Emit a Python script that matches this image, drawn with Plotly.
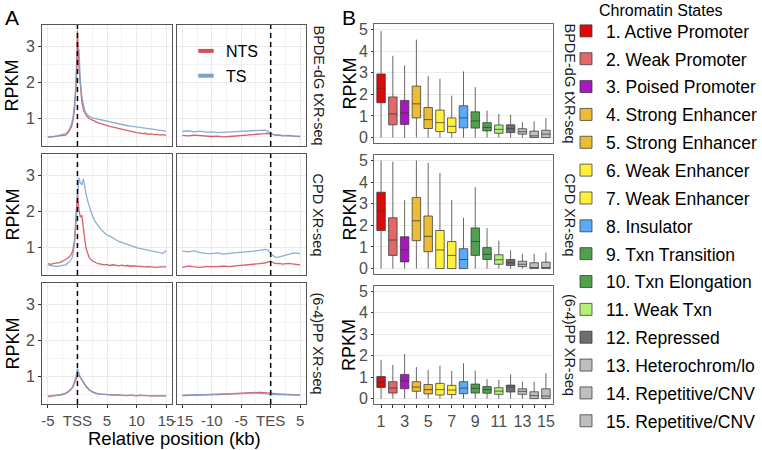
import plotly.graph_objects as go

W, H = 762, 450
def px(x): return x / W
def py(y): return 1 - y / H
def sfx(i): return "" if i == 1 else str(i)

FONT = "Liberation Sans, Arial, Helvetica, sans-serif"

# ---------------- Panel A data ----------------
XL = [-5, -4.5, -4, -3.5, -3, -2.5, -2, -1.5, -1, -0.75, -0.5, -0.25, 0, 0.25, 0.5, 0.75, 1, 1.25, 1.5,
      2, 2.5, 3, 3.5, 4, 4.5, 5, 5.5, 6, 6.5, 7, 7.5, 8, 8.5, 9, 9.5, 10, 10.5, 11, 11.5, 12, 12.5, 13, 13.5, 14, 14.5, 15]
XR = [-15, -14, -13, -12, -11, -10, -9, -8, -7, -6, -5, -4, -3, -2, -1, -0.5, 0, 0.5, 1, 1.5, 2, 3, 4, 5]

bpde_nts_L = [0.48, 0.49, 0.48, 0.50, 0.51, 0.52, 0.54, 0.62, 0.78, 0.95, 1.25, 1.90, 3.45, 2.45, 1.80, 1.45, 1.25, 1.15, 1.08,
              1.00, 0.95, 0.92, 0.88, 0.85, 0.83, 0.80, 0.78, 0.76, 0.74, 0.71, 0.70, 0.67, 0.66, 0.64, 0.63, 0.61, 0.60, 0.58, 0.59, 0.56, 0.57, 0.55, 0.56, 0.54, 0.55, 0.53]
bpde_ts_L = [0.48, 0.50, 0.49, 0.51, 0.52, 0.55, 0.58, 0.66, 0.85, 1.05, 1.40, 2.00, 2.70, 2.95, 2.00, 1.60, 1.35, 1.22, 1.14,
             1.06, 1.02, 1.00, 0.98, 0.96, 0.95, 0.92, 0.91, 0.89, 0.87, 0.85, 0.84, 0.82, 0.80, 0.79, 0.78, 0.77, 0.75, 0.74, 0.73, 0.72, 0.70, 0.70, 0.69, 0.68, 0.66, 0.65]
cpd_nts_L = [0.55, 0.53, 0.56, 0.57, 0.58, 0.62, 0.66, 0.72, 0.82, 0.95, 1.20, 1.80, 2.50, 2.05, 1.85, 1.90, 1.50, 1.20, 0.95,
             0.72, 0.63, 0.58, 0.55, 0.54, 0.52, 0.53, 0.50, 0.52, 0.50, 0.49, 0.51, 0.49, 0.50, 0.48, 0.49, 0.48, 0.47, 0.48, 0.46, 0.47, 0.46, 0.47, 0.45, 0.46, 0.45, 0.46]
cpd_ts_L = [0.52, 0.50, 0.48, 0.47, 0.49, 0.50, 0.52, 0.58, 0.68, 0.80, 1.10, 1.70, 2.30, 2.95, 2.80, 2.75, 2.92, 2.70, 2.45,
            2.15, 1.90, 1.72, 1.60, 1.50, 1.42, 1.35, 1.32, 1.26, 1.22, 1.17, 1.14, 1.10, 1.07, 1.05, 1.03, 1.00, 0.98, 0.96, 0.95, 0.93, 0.91, 0.90, 0.88, 0.86, 0.84, 0.92]
pp_nts_L = [0.44, 0.45, 0.46, 0.47, 0.48, 0.50, 0.53, 0.58, 0.66, 0.72, 0.82, 0.92, 1.02, 1.03, 0.98, 0.92, 0.85, 0.78, 0.72,
            0.63, 0.57, 0.54, 0.52, 0.51, 0.50, 0.50, 0.49, 0.49, 0.48, 0.49, 0.48, 0.48, 0.47, 0.48, 0.47, 0.47, 0.48, 0.47, 0.46, 0.47, 0.46, 0.47, 0.46, 0.46, 0.47, 0.46]
pp_ts_L = [0.46, 0.46, 0.47, 0.48, 0.49, 0.51, 0.54, 0.59, 0.67, 0.74, 0.85, 1.00, 1.22, 1.08, 0.97, 0.90, 0.83, 0.76, 0.70,
           0.62, 0.57, 0.54, 0.52, 0.51, 0.50, 0.49, 0.50, 0.48, 0.49, 0.48, 0.48, 0.47, 0.48, 0.47, 0.47, 0.46, 0.47, 0.47, 0.46, 0.47, 0.46, 0.46, 0.47, 0.46, 0.46, 0.47]

bpde_nts_R = [0.53, 0.52, 0.54, 0.52, 0.51, 0.50, 0.51, 0.49, 0.50, 0.51, 0.52, 0.53, 0.55, 0.56, 0.58, 0.59, 0.58, 0.55, 0.53, 0.54, 0.52, 0.53, 0.51, 0.50]
bpde_ts_R = [0.64, 0.66, 0.63, 0.65, 0.62, 0.63, 0.61, 0.62, 0.64, 0.63, 0.65, 0.66, 0.67, 0.68, 0.68, 0.66, 0.57, 0.55, 0.54, 0.53, 0.53, 0.52, 0.51, 0.50]
cpd_nts_R = [0.45, 0.48, 0.46, 0.45, 0.47, 0.46, 0.47, 0.48, 0.47, 0.49, 0.50, 0.52, 0.53, 0.55, 0.57, 0.60, 0.62, 0.57, 0.55, 0.56, 0.54, 0.56, 0.53, 0.52]
cpd_ts_R = [0.90, 0.88, 0.91, 0.86, 0.84, 0.83, 0.85, 0.82, 0.84, 0.85, 0.86, 0.88, 0.90, 0.92, 0.95, 0.93, 0.85, 0.76, 0.72, 0.74, 0.76, 0.80, 0.85, 0.83]
pp_nts_R = [0.47, 0.48, 0.48, 0.49, 0.49, 0.50, 0.50, 0.51, 0.52, 0.53, 0.54, 0.55, 0.56, 0.56, 0.55, 0.54, 0.52, 0.53, 0.52, 0.51, 0.51, 0.50, 0.49, 0.48]
pp_ts_R = [0.48, 0.48, 0.49, 0.49, 0.50, 0.50, 0.51, 0.51, 0.52, 0.52, 0.53, 0.53, 0.54, 0.54, 0.53, 0.52, 0.47, 0.50, 0.50, 0.50, 0.49, 0.49, 0.48, 0.48]

# ---------------- Panel B data ----------------
states = ["1. Active Promoter", "2. Weak Promoter", "3. Poised Promoter", "4. Strong Enhancer",
          "5. Strong Enhancer", "6. Weak Enhancer", "7. Weak Enhancer", "8. Insulator",
          "9. Txn Transition", "10. Txn Elongation", "11. Weak Txn", "12. Repressed",
          "13. Heterochrom/lo", "14. Repetitive/CNV", "15. Repetitive/CNV"]
state_colors = ["#DD0A0A", "#E06868", "#A818BF", "#EDBC35", "#EDBC35", "#FFF03C", "#FFF03C", "#5AAAF8",
                "#50A050", "#50A050", "#B4F078", "#6E6E6E", "#BEBEBE", "#BEBEBE", "#BEBEBE"]

bpde_q1 = [1.61, 0.59, 0.61, 0.91, 0.42, 0.28, 0.23, 0.45, 0.44, 0.31, 0.20, 0.23, 0.16, 0.00, 0.00]
bpde_med = [2.28, 1.09, 1.14, 1.56, 0.83, 0.69, 0.52, 0.91, 0.77, 0.47, 0.38, 0.41, 0.27, 0.08, 0.16]
bpde_q3 = [2.94, 1.88, 1.72, 2.38, 1.39, 1.27, 0.91, 1.47, 1.19, 0.69, 0.58, 0.59, 0.41, 0.30, 0.34]
bpde_lo = [0] * 15
bpde_hi = [4.92, 3.78, 3.34, 4.53, 2.84, 2.72, 1.94, 3.06, 2.33, 1.25, 1.09, 1.06, 0.72, 0.75, 0.90]

cpd_q1 = [1.76, 0.61, 0.31, 1.29, 0.78, 0.00, 0.00, 0.00, 0.61, 0.42, 0.20, 0.14, 0.09, 0.00, 0.00]
cpd_med = [2.66, 1.32, 0.86, 2.21, 1.49, 0.86, 0.61, 0.42, 1.25, 0.66, 0.41, 0.27, 0.20, 0.05, 0.05]
cpd_q3 = [3.53, 2.35, 1.47, 3.29, 2.43, 1.76, 1.25, 0.92, 1.88, 0.97, 0.64, 0.42, 0.34, 0.27, 0.30]
cpd_lo = [0] * 15
cpd_hi = [5.00, 4.94, 3.17, 5.00, 4.89, 4.42, 3.17, 2.35, 3.76, 1.87, 1.29, 0.85, 0.69, 0.69, 0.74]

pp_q1 = [0.52, 0.26, 0.46, 0.34, 0.22, 0.17, 0.19, 0.23, 0.26, 0.25, 0.20, 0.31, 0.20, 0.00, 0.00]
pp_med = [0.76, 0.49, 0.83, 0.54, 0.42, 0.42, 0.40, 0.49, 0.48, 0.42, 0.35, 0.54, 0.34, 0.14, 0.12]
pp_q3 = [1.03, 0.79, 1.13, 0.79, 0.66, 0.71, 0.62, 0.79, 0.68, 0.56, 0.51, 0.63, 0.46, 0.32, 0.46]
pp_lo = [0] * 15
pp_hi = [1.81, 1.57, 2.08, 1.47, 1.34, 1.53, 1.30, 1.65, 1.30, 0.91, 0.88, 1.14, 0.79, 0.79, 1.19]

strip_labels = ["BPDE-dG tXR-seq", "CPD XR-seq", "(6-4)PP XR-seq"]
NTS_COLOR = "#D2505A"
TS_COLOR = "#7C9FD2"

# ---------------- Geometry ----------------
A_cols = [(42, 172), (176.5, 306)]
A_rows = [(25, 146), (154, 275), (283, 404)]
B_col = (374, 553)
B_rows = [(24, 143), (155, 274), (286, 404)]

fig = go.Figure()

A_data = [
    (bpde_nts_L, bpde_ts_L, bpde_nts_R, bpde_ts_R),
    (cpd_nts_L, cpd_ts_L, cpd_nts_R, cpd_ts_R),
    (pp_nts_L, pp_ts_L, pp_nts_R, pp_ts_R),
]

layout = {}
shapes = []
for r in range(3):
    nL, tL, nR, tR = A_data[r]
    for c in range(2):
        i = r * 2 + c + 1
        s = sfx(i)
        xs = XL if c == 0 else XR
        nts = nL if c == 0 else nR
        ts = tL if c == 0 else tR
        fig.add_trace(go.Scatter(x=xs, y=nts, mode="lines", line=dict(color=NTS_COLOR, width=1.3),
                                 opacity=0.9, xaxis="x" + s, yaxis="y" + s, showlegend=False, hoverinfo="skip"))
        fig.add_trace(go.Scatter(x=xs, y=ts, mode="lines", line=dict(color=TS_COLOR, width=1.3),
                                 opacity=0.85, xaxis="x" + s, yaxis="y" + s, showlegend=False, hoverinfo="skip"))
        x0, x1 = A_cols[c]
        y0, y1 = A_rows[r]
        if c == 0:
            tv, tt, rng, mv = [-5, 0, 5, 10, 15], ["-5", "TSS", "5", "10", "15"], [-6, 16], [-2.5, 2.5, 7.5, 12.5]
        else:
            tv, tt, rng, mv = [-15, -10, -5, 0, 5], ["-15", "-10", "-5", "TES", "5"], [-16, 6], [-12.5, -7.5, -2.5, 2.5]
        bottom = (r == 2)
        layout["xaxis" + s] = dict(domain=[px(x0), px(x1)], anchor="y" + s, range=rng, tickvals=tv, ticktext=tt,
                                   showticklabels=bottom, ticks="outside" if bottom else "", ticklen=3,
                                   tickcolor="#333", showgrid=True, gridcolor="#EBEBEB", gridwidth=1,
                                   minor=dict(tickvals=mv, showgrid=True, gridcolor="#F3F3F3", gridwidth=0.6, ticks=""),
                                   zeroline=False, showline=True, mirror=True, linecolor="#555", linewidth=1,
                                   tickfont=dict(size=15, color="#4D4D4D", family=FONT))
        left = (c == 0)
        layout["yaxis" + s] = dict(domain=[py(y1), py(y0)], anchor="x" + s, range=[0.235, 3.61], tickvals=[1, 2, 3],
                                   showticklabels=left, ticks="outside" if left else "", ticklen=3, tickcolor="#333",
                                   showgrid=True, gridcolor="#EBEBEB", gridwidth=1,
                                   minor=dict(tickvals=[0.5, 1.5, 2.5, 3.5], showgrid=True, gridcolor="#F3F3F3", gridwidth=0.6, ticks=""),
                                   zeroline=False, showline=True, mirror=True, linecolor="#555", linewidth=1,
                                   tickfont=dict(size=16, color="#4D4D4D", family=FONT))
        shapes.append(dict(type="line", xref="x" + s, yref="y" + s + " domain", x0=0, x1=0, y0=0, y1=1,
                           line=dict(color="black", width=1.5, dash="5px,4px")))

# legend keys for strands
fig.add_trace(go.Scatter(x=[None], y=[None], mode="markers", name="NTS", legend="legend", legendgroup="nts",
                         marker=dict(symbol="line-ew", size=11, line=dict(color=NTS_COLOR, width=4)),
                         xaxis="x2", yaxis="y2"))
fig.add_trace(go.Scatter(x=[None], y=[None], mode="markers", name="TS", legend="legend", legendgroup="ts",
                         marker=dict(symbol="line-ew", size=11, line=dict(color=TS_COLOR, width=4)),
                         xaxis="x2", yaxis="y2"))

B_data = [
    (bpde_q1, bpde_med, bpde_q3, bpde_lo, bpde_hi),
    (cpd_q1, cpd_med, cpd_q3, cpd_lo, cpd_hi),
    (pp_q1, pp_med, pp_q3, pp_lo, pp_hi),
]
for r in range(3):
    i = 7 + r
    s = sfx(i)
    q1, med, q3, lo, hi = B_data[r]
    for k in range(15):
        fig.add_trace(go.Box(x=[k + 1], q1=[q1[k]], median=[med[k]], q3=[q3[k]], lowerfence=[lo[k]], upperfence=[hi[k]],
                             name=states[k], legend="legend2", legendgroup=f"s{k}", showlegend=(r == 0),
                             fillcolor=state_colors[k], line=dict(color="rgba(55,55,55,0.75)", width=1),
                             width=0.72, whiskerwidth=0, boxpoints=False, xaxis="x" + s, yaxis="y" + s, hoverinfo="skip"))
    y0, y1 = B_rows[r]
    bottom = (r == 2)
    layout["xaxis" + s] = dict(domain=[px(B_col[0]), px(B_col[1])], anchor="y" + s, range=[0.4, 15.6],
                               tickvals=list(range(1, 16)),
                               ticktext=[str(v) if v % 2 == 1 else "" for v in range(1, 16)],
                               showticklabels=bottom, ticks="outside" if bottom else "", ticklen=3, tickcolor="#333",
                               showgrid=False, zeroline=False, showline=True, mirror=True, linecolor="#666", linewidth=1,
                               tickfont=dict(size=16, color="#4D4D4D", family=FONT))
    layout["yaxis" + s] = dict(domain=[py(y1), py(y0)], anchor="x" + s, range=[-0.25, 5.25], tickvals=[0, 1, 2, 3, 4, 5],
                               ticks="outside", ticklen=2, tickcolor="#333", showgrid=True, gridcolor="#EBEBEB", gridwidth=1,
                               zeroline=False, showline=True, mirror=True, linecolor="#666", linewidth=1,
                               tickfont=dict(size=16, color="#4D4D4D", family=FONT))

def note(text, x, y, size, angle=0, color="black", xa="center", ya="middle"):
    return dict(text=text, x=px(x), y=py(y), xref="paper", yref="paper", xanchor=xa, yanchor=ya,
                textangle=angle, showarrow=False, font=dict(size=size, color=color, family=FONT))

ann = [note("A", 3, 4, 21, xa="left", ya="top"), note("B", 340, 4, 21, xa="left", ya="top")]
for r in range(3):
    yc = (A_rows[r][0] + A_rows[r][1]) / 2
    ann.append(note("RPKM", 12, yc, 18, angle=-90))
    ann.append(note(strip_labels[r], 318, yc, 14.5, angle=90, color="#1A1A1A"))
    ybc = (B_rows[r][0] + B_rows[r][1]) / 2
    ann.append(note("RPKM", 349, ybc, 18, angle=-90))
    ann.append(note(strip_labels[r], 570, ybc, 14.5, angle=90, color="#1A1A1A"))
ann.append(note("Relative position (kb)", 174, 438, 18.5))
ann.append(note("Chromatin States", 597, 10, 16, xa="left"))

fig.update_layout(
    width=W, height=H, margin=dict(l=0, r=0, t=0, b=0, autoexpand=False),
    paper_bgcolor="white", plot_bgcolor="white",
    font=dict(family=FONT),
    shapes=shapes, annotations=ann, boxmode="overlay",
    legend=dict(x=px(186), y=py(34), xref="container", yref="container", xanchor="left", yanchor="top",
                bgcolor="rgba(0,0,0,0)", maxheight=1,
                font=dict(size=16, color="black", family=FONT), traceorder="grouped", tracegroupgap=1),
    legend2=dict(x=px(566), y=py(13), xref="container", yref="container", xanchor="left", yanchor="top",
                 bgcolor="rgba(0,0,0,0)", maxheight=1,
                 font=dict(size=17.5, color="black", family=FONT), traceorder="grouped", tracegroupgap=2.1),
    **layout,
)

fig.write_html("out.html", config={"displayModeBar": False},
               post_script="document.body.style.margin='0px';document.body.style.overflow='hidden';")
